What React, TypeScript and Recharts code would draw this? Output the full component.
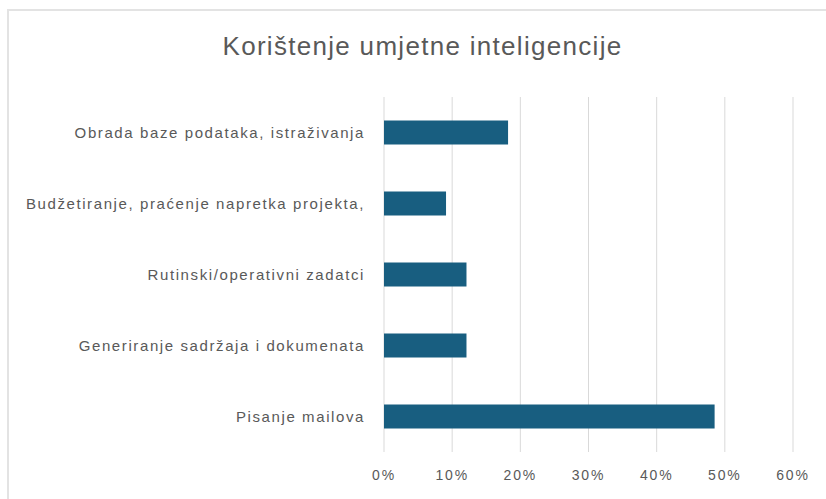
import React from 'react'
import { BarChart, Bar, XAxis, YAxis, CartesianGrid } from 'recharts'

const CATEGORIES = [
  'Obrada baze podataka, istraživanja',
  'Budžetiranje, praćenje napretka projekta,',
  'Rutinski/operativni zadatci',
  'Generiranje sadržaja i dokumenata',
  'Pisanje mailova',
]
const SHARES = [0.182, 0.091, 0.121, 0.121, 0.485]
const X_TICKS = [0, 0.1, 0.2, 0.3, 0.4, 0.5, 0.6]

const BAR_COLOR = '#185e80'
const TEXT_COLOR = '#595959'
const FONT = '"Liberation Sans", Arial, sans-serif'

export default function App() {
  const data = CATEGORIES.map((name, i) => ({ name, value: SHARES[i] }))

  return (
    <div style={{ position: 'absolute', left: 0, top: 0, width: 826, height: 499, background: '#fff', overflow: 'hidden' }}>
      <div
        style={{
          position: 'absolute',
          left: 7,
          top: 9,
          width: 840,
          height: 520,
          borderTop: '2px solid #e3e3e3',
          borderLeft: '2px solid #e3e3e3',
        }}
      />
      <div
        style={{
          position: 'absolute',
          left: 0,
          top: 28,
          width: 845,
          textAlign: 'center',
          fontFamily: FONT,
          fontSize: 26,
          letterSpacing: 1.3,
          color: TEXT_COLOR,
          lineHeight: '36px',
        }}
      >
        Korištenje umjetne inteligencije
      </div>
      <div style={{ position: 'absolute', left: 0, top: 0 }}>
        <BarChart
          width={826}
          height={499}
          data={data}
          layout="vertical"
          margin={{ top: 97, right: 33, bottom: 17, left: 0 }}
          barCategoryGap="33%"
        >
          <CartesianGrid horizontal={false} stroke="#d9d9d9" strokeWidth={1} />
          <XAxis
            type="number"
            domain={[0, 0.6]}
            ticks={X_TICKS}
            tickFormatter={(v: number) => `${Math.round(v * 100)}%`}
            axisLine={false}
            tickLine={false}
            tickSize={0}
            tickMargin={18}
            height={30}
            tick={{ fill: TEXT_COLOR, fontSize: 14, fontFamily: FONT, letterSpacing: 1.8 }}
            interval={0}
          />
          <YAxis
            type="category"
            dataKey="name"
            width={384}
            axisLine={false}
            tickLine={false}
            tickSize={0}
            tickMargin={19}
            tick={{ fill: TEXT_COLOR, fontSize: 15, fontFamily: FONT, letterSpacing: 1.6 }}
            interval={0}
          />
          <Bar dataKey="value" fill={BAR_COLOR} isAnimationActive={false} />
        </BarChart>
      </div>
    </div>
  )
}
